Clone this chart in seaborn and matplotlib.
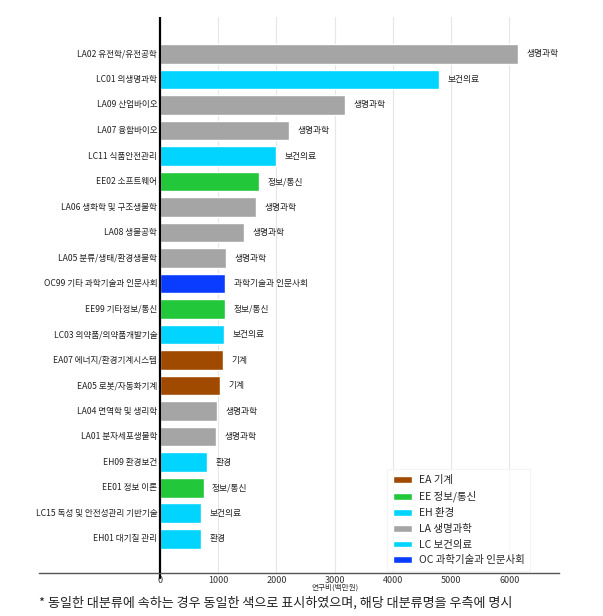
import matplotlib
matplotlib.use("Agg")
import matplotlib.pyplot as plt
import seaborn as sns
import pandas as pd
from matplotlib.patches import Patch

categories = [
    "LA02 유전학/유전공학", "LC01 의생명과학", "LA09 산업바이오", "LA07 융합바이오",
    "LC11 식품안전관리", "EE02 소프트웨어", "LA06 생화학 및 구조생물학", "LA08 생물공학",
    "LA05 분류/생태/환경생물학", "OC99 기타 과학기술과 인문사회", "EE99 기타정보/통신",
    "LC03 의약품/의약품개발기술", "EA07 에너지/환경기계시스템", "EA05 로봇/자동화기계",
    "LA04 면역학 및 생리학", "LA01 분자세포생물학", "EH09 환경보건", "EE01 정보 이론",
    "LC15 독성 및 안전성관리 기반기술", "EH01 대기질 관리",
]
values = [6150, 4790, 3180, 2215, 1990, 1700, 1650, 1450, 1135, 1122, 1117, 1105,
          1088, 1037, 980, 957, 808, 751, 710, 704]
groups = ["LA", "LC", "LA", "LA", "LC", "EE", "LA", "LA", "LA", "OC", "EE", "LC",
          "EA", "EA", "LA", "LA", "EH", "EE", "LC", "EH"]
group_names = {"EA": "기계", "EE": "정보/통신", "EH": "환경", "LA": "생명과학",
               "LC": "보건의료", "OC": "과학기술과 인문사회"}
palette = {"EA": "#A04A00", "EE": "#22C73A", "EH": "#00D4FF", "LA": "#A5A5A5",
           "LC": "#00D4FF", "OC": "#0A3CFF"}
xticks = [0, 1000, 2000, 3000, 4000, 5000, 6000]

sns.set_theme(style="white")
plt.rcParams['font.family'] = ['Noto Sans CJK KR', 'DejaVu Sans']

df = pd.DataFrame({"cat": categories, "val": values, "grp": groups})

fig = plt.figure(figsize=(6.03, 6.16), dpi=100)
ax = fig.add_axes([39/603, 1 - 573/616, (559-39)/603, (573-17)/616])

sns.barplot(data=df, x="val", y="cat", hue="grp", palette=palette, dodge=False,
            orient="h", width=0.78, ax=ax, legend=False, saturation=1)

for x in xticks[1:]:
    ax.axvline(x, color="#e6e6e6", lw=0.8, zorder=0)
ax.axvline(0, color="black", lw=1.6, zorder=3)

for i, (c, v, g) in enumerate(zip(categories, values, groups)):
    ax.annotate(c, xy=(0, i), xytext=(-2, 0), textcoords="offset points",
                ha="right", va="center", fontsize=6.2, color="#222222")
    ax.annotate(group_names[g], xy=(v, i), xytext=(6, 0), textcoords="offset points",
                ha="left", va="center", fontsize=6.3, color="#222222")

ax.set_xlim(-2077, 6850)
ax.set_ylim(20.35, -1.45)
ax.set_yticks([])
ax.set_xticks(xticks)
ax.set_xticklabels([str(x) for x in xticks], fontsize=6.5, color="#333333")
ax.tick_params(axis="x", length=0, pad=2)
ax.set_xlabel("")
ax.set_ylabel("")
ax.plot([0, 0], [20.35, 20.55], color="black", lw=1.6, clip_on=False)
for s in ["top", "right", "left"]:
    ax.spines[s].set_visible(False)
ax.spines["bottom"].set_color("#555555")
ax.spines["bottom"].set_linewidth(1.0)

fig.text((160 + 3000*0.05825)/603, 1 - 588/616, "연구비(백만원)", fontsize=5.5,
         ha="center", va="center", color="#333333")

handles = [Patch(facecolor=palette[k], label=f"{k} {group_names[k]}")
           for k in ["EA", "EE", "EH", "LA", "LC", "OC"]]
leg = ax.legend(handles=handles, loc="lower right", bbox_to_anchor=(0.955, -0.006),
                fontsize=7.5, frameon=True, handlelength=1.8, handleheight=0.6,
                handletextpad=0.7, labelspacing=0.55, borderpad=0.55, fancybox=False)
leg.get_frame().set_edgecolor("#f2f2f2")
leg.get_frame().set_linewidth(0.8)

fig.text(39/603, 1 - 603/616, "* 동일한 대분류에 속하는 경우 동일한 색으로 표시하였으며, 해당 대분류명을 우측에 명시",
         fontsize=9.4, ha="left", va="center", color="#222222")

fig.savefig("out.png", dpi=100, facecolor="white")
